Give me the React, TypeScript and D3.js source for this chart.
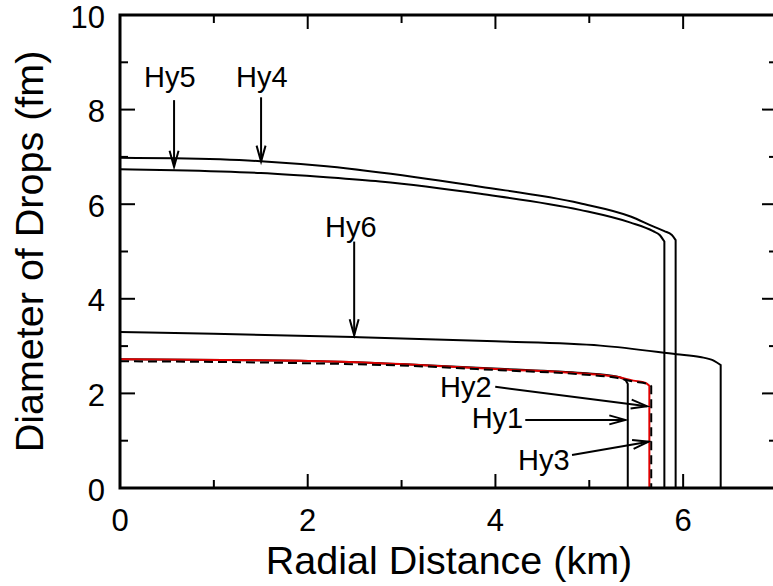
import React from "react";
import * as d3 from "d3";

// ---- data ----
const xTicksMajor = [0, 2, 4, 6];
const xTicksMinor = [1, 3, 5, 7];
const yTicksMajor = [0, 2, 4, 6, 8, 10];
const yTicksMinor = [1, 3, 5, 7, 9];

// [x (km), diameter (fm)] — top profile, then drop to zero
const hy5: [number, number][] = [[0, 6.98], [0.58, 6.97], [1.5, 6.91], [2.2, 6.8], [2.77, 6.67], [3.84, 6.37], [4.9, 6.02], [5.44, 5.74], [5.68, 5.53], [5.8, 5.43], [5.88, 5.35], [5.92, 5.24]];
const hy5Edge = 5.92;
const hy4: [number, number][] = [[0, 6.74], [0.58, 6.72], [1.5, 6.66], [2.2, 6.57], [2.77, 6.48], [3.84, 6.22], [4.9, 5.88], [5.44, 5.61], [5.68, 5.43], [5.75, 5.35], [5.8, 5.21]];
const hy4Edge = 5.8;
const hy6: [number, number][] = [[0, 3.3], [1, 3.26], [2.49, 3.19], [4, 3.1], [5.12, 3.01], [5.93, 2.83], [6.18, 2.77], [6.33, 2.69], [6.4, 2.6]];
const hy6Edge = 6.4;
const hy1: [number, number][] = [[0, 2.72], [1.92, 2.69], [2.985, 2.62], [4.05, 2.52], [4.93, 2.43], [5.29, 2.36], [5.35, 2.32], [5.39, 2.27], [5.41, 2.2]];
const hy1Edge = 5.41;
const hy2: [number, number][] = [[0, 2.72], [1.92, 2.69], [2.985, 2.62], [4.05, 2.51], [4.93, 2.42], [5.29, 2.35], [5.47, 2.27], [5.6, 2.22], [5.64, 2.16]];
const hy2Edge = 5.64;
const hy3: [number, number][] = [[0, 2.68], [1.92, 2.64], [2.985, 2.59], [4.05, 2.49], [4.93, 2.4], [5.29, 2.33], [5.47, 2.25], [5.62, 2.2], [5.66, 2.15]];
const hy3Edge = 5.66;

const labelNames = ["Hy5", "Hy4", "Hy6", "Hy2", "Hy1", "Hy3"];
const labelPos: [number, number][] = [[0.256, 8.47], [1.236, 8.48], [2.184, 5.31], [3.409, 1.92], [3.747, 1.26], [4.24, 0.38]];
const arrowFrom: [number, number][] = [[0.576, 8.2], [1.503, 8.26], [2.495, 5.21], [3.998, 2.14], [4.318, 1.44], [4.816, 0.7]];
const arrowTo: [number, number][] = [[0.576, 6.79], [1.503, 6.9], [2.495, 3.23], [5.615, 1.73], [5.384, 1.44], [5.632, 0.98]];

const W = 773;
const H = 586;
const left = 120, right = 777, top = 15, bottom = 488;

export default function App() {
  const x = d3.scaleLinear().domain([0, 7]).range([left, right]);
  const y = d3.scaleLinear().domain([0, 10]).range([bottom, top]);
  const curve = d3.line<[number, number]>().x(d => x(d[0])).y(d => y(d[1])).curve(d3.curveMonotoneX);
  const straight = d3.line<[number, number]>().x(d => x(d[0])).y(d => y(d[1]));
  const path = (pts: [number, number][], edge: number) => {
    const last = pts[pts.length - 1];
    return curve(pts) + straight([[last[0], last[1]], [edge, 0]])!.replace(/^M/, "L");
  };
  const font = "'Liberation Sans', Arial, Helvetica, sans-serif";
  const series = [
    { d: path(hy5, hy5Edge), stroke: "#000", dash: undefined },
    { d: path(hy4, hy4Edge), stroke: "#000", dash: undefined },
    { d: path(hy6, hy6Edge), stroke: "#000", dash: undefined },
    { d: path(hy1, hy1Edge), stroke: "#000", dash: undefined },
    { d: path(hy2, hy2Edge), stroke: "#e00000", dash: undefined },
    { d: path(hy3, hy3Edge), stroke: "#000", dash: "9,5" },
  ];
  return (
    <svg width={W} height={H} style={{ position: "fixed", left: 0, top: 0, background: "#fff" }}>
      <defs>
        <marker id="ah" markerUnits="userSpaceOnUse" markerWidth="24" markerHeight="20" viewBox="-20 -10 24 20" refX="0" refY="0" orient="auto">
          <path d="M-16,-4.5 L0,0 L-16,4.5" fill="none" stroke="#000" strokeWidth={2} />
        </marker>
      </defs>
      {series.map((s, i) => (
        <path key={i} d={s.d} fill="none" stroke={s.stroke} strokeWidth={2} strokeDasharray={s.dash} />
      ))}
      {/* frame */}
      <rect x={left} y={top} width={right - left} height={bottom - top} fill="none" stroke="#000" strokeWidth={3} />
      {xTicksMajor.map(t => (
        <g key={"xm" + t}>
          <line x1={x(t)} x2={x(t)} y1={bottom} y2={bottom - 14} stroke="#000" strokeWidth={2} />
          <line x1={x(t)} x2={x(t)} y1={top} y2={top + 14} stroke="#000" strokeWidth={2} />
          <text x={x(t)} y={531} textAnchor="middle" fontSize={31} fontFamily={font}>{t}</text>
        </g>
      ))}
      {xTicksMinor.map(t => (
        <g key={"xn" + t}>
          <line x1={x(t)} x2={x(t)} y1={bottom} y2={bottom - 8} stroke="#000" strokeWidth={2} />
          <line x1={x(t)} x2={x(t)} y1={top} y2={top + 8} stroke="#000" strokeWidth={2} />
        </g>
      ))}
      {yTicksMajor.map(t => (
        <g key={"ym" + t}>
          <line x1={left} x2={left + 15} y1={y(t)} y2={y(t)} stroke="#000" strokeWidth={2} />
          <line x1={right} x2={right - 15} y1={y(t)} y2={y(t)} stroke="#000" strokeWidth={2} />
          <text x={105} y={y(t) + 12.5} textAnchor="end" fontSize={31} fontFamily={font}>{t}</text>
        </g>
      ))}
      {yTicksMinor.map(t => (
        <g key={"yn" + t}>
          <line x1={left} x2={left + 8} y1={y(t)} y2={y(t)} stroke="#000" strokeWidth={2} />
          <line x1={right} x2={right - 8} y1={y(t)} y2={y(t)} stroke="#000" strokeWidth={2} />
        </g>
      ))}
      {/* annotations */}
      {labelNames.map((n, i) => (
        <g key={n}>
          <text x={x(labelPos[i][0])} y={y(labelPos[i][1])} fontSize={29} fontFamily={font}>{n}</text>
          <line x1={x(arrowFrom[i][0])} y1={y(arrowFrom[i][1])} x2={x(arrowTo[i][0])} y2={y(arrowTo[i][1])} stroke="#000" strokeWidth={2} markerEnd="url(#ah)" />
        </g>
      ))}
      <text x={449} y={574} textAnchor="middle" fontSize={39.5} fontFamily={font}>Radial Distance (km)</text>
      <text transform={`translate(43,${(top + bottom) / 2}) rotate(-90)`} textAnchor="middle" fontSize={39.5} fontFamily={font}>Diameter of Drops (fm)</text>
    </svg>
  );
}
